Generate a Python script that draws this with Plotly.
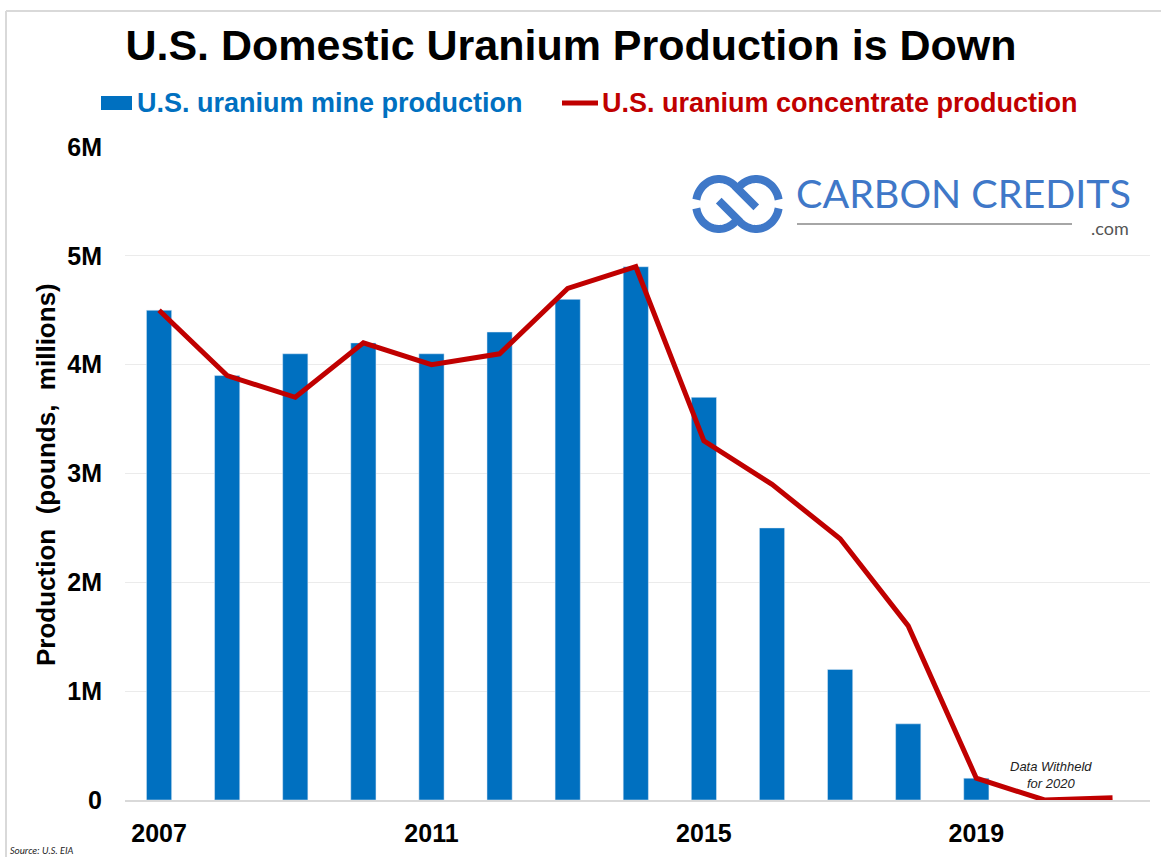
import numpy as np
import plotly.graph_objects as go

# ---------------- data ----------------
years = [2007, 2008, 2009, 2010, 2011, 2012, 2013, 2014, 2015, 2016, 2017, 2018, 2019, 2020, 2021]
mine_production = [4.5, 3.9, 4.1, 4.2, 4.1, 4.3, 4.6, 4.9, 3.7, 2.5, 1.2, 0.7, 0.2, None, None]
concentrate_production = [4.5, 3.9, 3.7, 4.2, 4.0, 4.1, 4.7, 4.9, 3.3, 2.9, 2.4, 1.6, 0.2, 0.0, 0.02]
x_tick_vals = [2007, 2011, 2015, 2019]
x_tick_text = ["2007", "2011", "2015", "2019"]
y_tick_vals = [0, 1, 2, 3, 4, 5, 6]
y_tick_text = ["0", "1M", "2M", "3M", "4M", "5M", "6M"]

BLUE = "#0070C0"
RED = "#C00000"
FONT = "Liberation Sans, Arial, sans-serif"

W, H = 1161, 857
PL, PR, PT, PB = 125, 1150, 147, 800


def px(x):
    return (x - PL) / (PR - PL)


def py(y):
    return (PB - y) / (PB - PT)


fig = go.Figure()
fig.add_trace(go.Bar(x=years, y=mine_production, marker_color=BLUE, width=0.37,
                     name="U.S. uranium mine production", showlegend=False))
fig.add_trace(go.Scatter(x=years, y=concentrate_production, mode="lines",
                         line=dict(color=RED, width=5), name="U.S. uranium concentrate production",
                         showlegend=False))

shapes = []
annotations = []

# frame lines (top & left)
shapes.append(dict(type="line", xref="paper", yref="paper", x0=px(6), x1=px(W + 5), y0=py(11), y1=py(11),
                   line=dict(color="#d9d9d9", width=2)))
shapes.append(dict(type="line", xref="paper", yref="paper", x0=px(6), x1=px(6), y0=py(11), y1=py(H + 5),
                   line=dict(color="#d9d9d9", width=2)))

# manual legend
shapes.append(dict(type="rect", xref="paper", yref="paper", x0=px(101), x1=px(132), y0=py(110), y1=py(96),
                   fillcolor=BLUE, line=dict(width=0)))
annotations.append(dict(xref="paper", yref="paper", x=px(135), y=py(103), xanchor="left", yanchor="middle",
                        text="<b>U.S. uranium mine production</b>", showarrow=False,
                        font=dict(family=FONT, size=27, color=BLUE)))
shapes.append(dict(type="line", xref="paper", yref="paper", x0=px(562), x1=px(598), y0=py(103), y1=py(103),
                   line=dict(color=RED, width=5)))
annotations.append(dict(xref="paper", yref="paper", x=px(600), y=py(103), xanchor="left", yanchor="middle",
                        text="<b>U.S. uranium concentrate production</b>", showarrow=False,
                        font=dict(family=FONT, size=27, color=RED)))

# annotation for 2020
annotations.append(dict(xref="x", yref="paper", x=2020.1, y=py(775), xanchor="center", yanchor="middle",
                        text="<i>Data Withheld<br>for 2020</i>", showarrow=False,
                        font=dict(family=FONT, size=13, color="#222222")))

# source
annotations.append(dict(xref="paper", yref="paper", x=px(8), y=py(850), xanchor="left", yanchor="middle",
                        text="<i>Source: U.S. EIA</i>", showarrow=False,
                        font=dict(family="Carlito, Liberation Sans, sans-serif", size=10, color="#222222")))

# y-axis title
annotations.append(dict(xref="paper", yref="paper", x=px(46), y=py(475), xanchor="center", yanchor="middle",
                        text="<b>Production  (pounds,  millions)</b>", textangle=-90, showarrow=False,
                        font=dict(family=FONT, size=26, color="#000000")))

# ---- logo ----
LOGO = "#3f78c8"


def poly(points):
    return "M " + " L ".join(f"{px(x):.5f},{py(y):.5f}" for x, y in points)


def arc(cx, cy, rx, ry, a0, a1, n=30):
    t = np.radians(np.linspace(a0, a1, n))
    return [(cx + rx * np.cos(a), cy - ry * np.sin(a)) for a in t]


LCX, RCX, CY, RX, RY = 719, 756, 204, 23, 25
a_pts = arc(LCX, CY, RX, RY, 170, 45)
a_pts.append((a_pts[-1][0] + 21, a_pts[-1][1] + 21))
b_pts = arc(RCX, CY, RX, RY, -10, -135)
b_pts.append((b_pts[-1][0] - 21, b_pts[-1][1] - 21))
c_pts = arc(RCX, CY, RX, RY, 135, 10)
d_pts = arc(LCX, CY, RX, RY, 190, 315)
for pts in (a_pts, b_pts, c_pts, d_pts):
    shapes.append(dict(type="path", xref="paper", yref="paper", path=poly(pts),
                       line=dict(color=LOGO, width=8)))

annotations.append(dict(xref="paper", yref="paper", x=px(794), y=py(192), xanchor="left", yanchor="middle",
                        text="CARBON CREDITS", showarrow=False,
                        font=dict(family="Lato, sans-serif", size=39.5, color=LOGO)))
shapes.append(dict(type="line", xref="paper", yref="paper", x0=px(797), x1=px(1072), y0=py(224), y1=py(224),
                   line=dict(color="#888888", width=1.5)))
annotations.append(dict(xref="paper", yref="paper", x=px(1131), y=py(228), xanchor="right", yanchor="middle",
                        text=".com", showarrow=False,
                        font=dict(family="Lato, sans-serif", size=18, color="#555555")))

fig.update_layout(
    width=W, height=H,
    margin=dict(l=PL, r=W - PR, t=PT, b=H - PB, pad=0, autoexpand=False),
    paper_bgcolor="white", plot_bgcolor="white",
    title=dict(text="<b>U.S. Domestic Uranium Production is Down</b>", x=px(571), xref="paper",
               xanchor="center", y=1 - 45 / H, yanchor="middle", automargin=False,
               font=dict(family=FONT, size=43, color="#000000")),
    shapes=shapes, annotations=annotations,
    showlegend=False,
)
fig.update_xaxes(range=[2006.5, 2021.55], tickvals=x_tick_vals,
                 ticktext=[f"<b>{t}</b>" for t in x_tick_text], automargin=False,
                 showgrid=False, showline=True, linecolor="#d9d9d9", linewidth=1.5, ticks="",
                 tickfont=dict(family=FONT, size=25, color="#000000"), ticklabelstandoff=10,
                 zeroline=False)
fig.update_yaxes(range=[0, 6], tickvals=y_tick_vals, ticktext=[f"<b>{t}</b>" for t in y_tick_text],
                 automargin=False,
                 showgrid=True, gridcolor="#ebebeb", gridwidth=1, zeroline=False, ticks="",
                 tickfont=dict(family=FONT, size=25, color="#000000"), ticklabelstandoff=22)

fig.write_html("out.html", config={"displayModeBar": False},
               post_script="document.body.style.margin='0px';document.body.style.overflow='hidden';")
